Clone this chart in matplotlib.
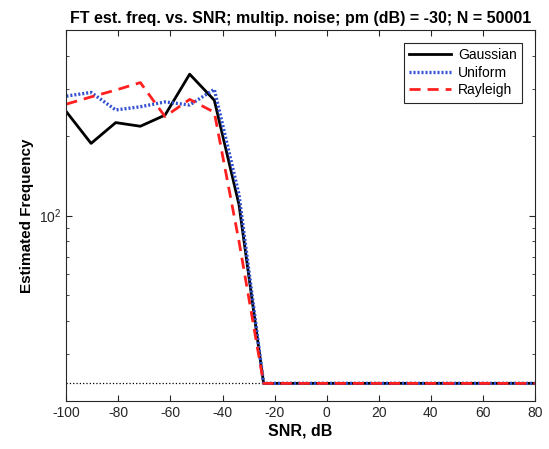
import matplotlib.pyplot as plt
from matplotlib.ticker import LogLocator, NullFormatter

# SNR grid (dB)
snr = [-100.0, -90.53, -81.05, -71.58, -62.11, -52.63, -43.16, -33.68, -24.21,
       -14.74, -5.26, 4.21, 13.68, 23.16, 32.63, 42.11, 51.58, 61.05, 70.53, 80.0]

# estimated frequency for each noise type
gauss = [246, 187, 224, 217, 239, 341, 272, 110, 23.3,
         23.3, 23.3, 23.3, 23.3, 23.3, 23.3, 23.3, 23.3, 23.3, 23.3, 23.3]
unif = [282, 291, 250, 257, 268, 261, 299, 120, 23.3,
        23.3, 23.3, 23.3, 23.3, 23.3, 23.3, 23.3, 23.3, 23.3, 23.3, 23.3]
rayl = [263, 280, 297, 317, 236, 274, 245, 80, 23.3,
        23.3, 23.3, 23.3, 23.3, 23.3, 23.3, 23.3, 23.3, 23.3, 23.3, 23.3]
true_freq = 23.3

plt.rcParams['font.family'] = ['Liberation Sans', 'DejaVu Sans']
plt.rcParams['axes.unicode_minus'] = False

fig = plt.figure(figsize=(5.49, 4.49), dpi=100)
ax = fig.add_axes([0.121, 0.107, 0.853, 0.826])

ax.axhline(true_freq, color='k', ls=':', lw=0.9)
ax.plot(snr, gauss, color='k', lw=2, label='Gaussian')
ax.plot(snr, unif, color='#3050d0', lw=2.4, dashes=(0.6, 0.6), label='Uniform')
ax.plot(snr, rayl, color='#ff2020', lw=2, dashes=(4, 2.5), label='Rayleigh')

ax.set_yscale('log')
ax.set_xlim(-100, 80)
ax.set_ylim(20, 500)
ax.set_xticks(range(-100, 81, 20))
ax.yaxis.set_major_locator(LogLocator(base=10))
ax.yaxis.set_minor_locator(LogLocator(base=10, subs=range(2, 10)))
ax.yaxis.set_minor_formatter(NullFormatter())

ax.tick_params(which='both', direction='in', top=True, right=True,
               colors='#262626', labelsize=10)
ax.tick_params(which='major', length=4)
ax.tick_params(which='minor', length=2.5)
for s in ax.spines.values():
    s.set_color('#262626')
    s.set_linewidth(0.8)

ax.set_title('FT est. freq. vs. SNR; multip. noise; pm (dB) = -30; N = 50001',
             fontsize=11.5, fontweight='bold', pad=5)
ax.set_xlabel('SNR, dB', fontsize=11.5, fontweight='bold', labelpad=3)
ax.set_ylabel('Estimated Frequency', fontsize=11, fontweight='bold')

leg = ax.legend(loc='upper right', fontsize=10, fancybox=False, framealpha=1,
                edgecolor='#262626', handlelength=3.0, borderaxespad=0.9,
                labelspacing=0.25, handletextpad=0.5)
leg.get_frame().set_linewidth(0.8)

fig.savefig('out.png', dpi=100)
